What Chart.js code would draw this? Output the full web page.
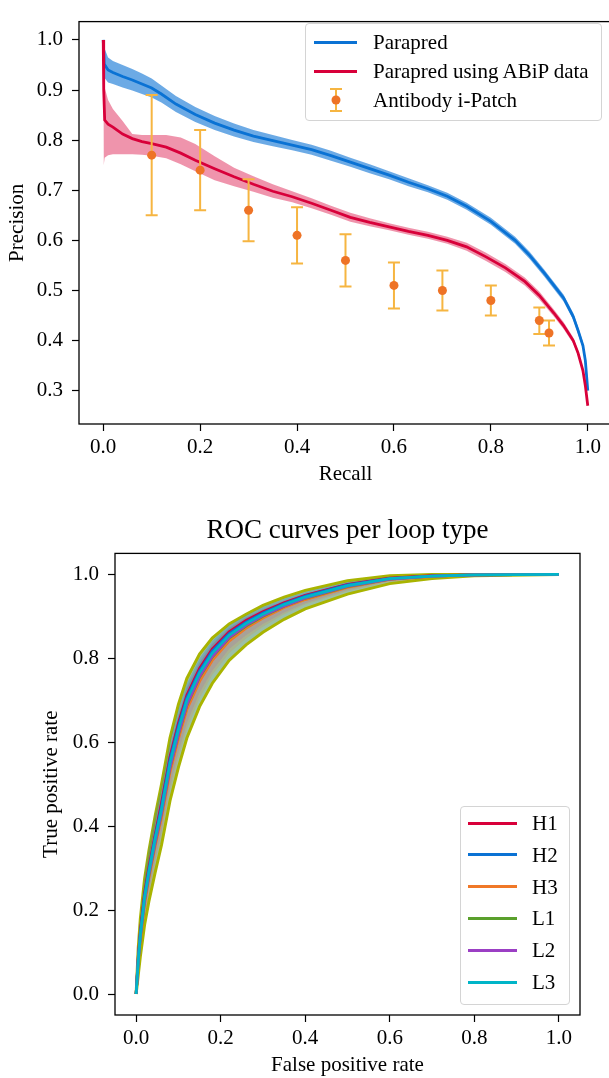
<!DOCTYPE html>
<html>
<head>
<meta charset="utf-8">
<script src="https://cdn.jsdelivr.net/npm/chart.js@4.4.1/dist/chart.umd.min.js"></script>
<style>
	body { margin: 0; width: 609px; height: 1078px; overflow: hidden; background: #fff; position: relative; font-family: "Liberation Serif", "Times New Roman", serif; }
	#pr-wrap { position: absolute; left: 0; top: 0; width: 640px; height: 495px; }
	#roc-wrap { position: absolute; left: 0; top: 500px; width: 609px; height: 578px; }
	.legend { position: absolute; background: rgba(255, 255, 255, 0.8); border: 1px solid #d4d4d4; border-radius: 4px; font-size: 21px; color: #000; }
	.legend .row { position: absolute; left: 0; right: 0; height: 24px; }
	.legend .swatch { position: absolute; top: 10.5px; height: 3px; }
	.legend .label { position: absolute; top: 0; line-height: 24px; white-space: nowrap; }
	.legend svg { position: absolute; }
</style>
</head>
<body>
<div id="pr-wrap"><canvas id="prChart" width="640" height="495"></canvas></div>
<div id="roc-wrap"><canvas id="rocChart" width="609" height="578"></canvas></div>
<div class="legend" id="pr-legend" style="left:305px; top:23px; width:295px; height:96px;"></div>
<div class="legend" id="roc-legend" style="left:460px; top:806px; width:108px; height:197px;"></div>
<script>
	// precision-recall (top)
	const recallTicks = [0, 0.2, 0.4, 0.6, 0.8, 1.0];
	const precisionTicks = [0.3, 0.4, 0.5, 0.6, 0.7, 0.8, 0.9, 1.0];

	const parapredRecall = [0, 0.002, 0.01, 0.02, 0.04, 0.06, 0.08, 0.1, 0.12, 0.15, 0.19, 0.23, 0.27, 0.31, 0.35, 0.39, 0.43, 0.47, 0.51, 0.55, 0.59, 0.63, 0.67, 0.71, 0.75, 0.8, 0.85, 0.88, 0.91, 0.93, 0.95, 0.97, 0.98, 0.99, 0.995, 1.0];
	const parapredPrecision = [1.0, 0.952, 0.94, 0.935, 0.927, 0.92, 0.912, 0.904, 0.892, 0.872, 0.851, 0.834, 0.82, 0.808, 0.799, 0.79, 0.781, 0.769, 0.756, 0.743, 0.73, 0.716, 0.703, 0.688, 0.668, 0.638, 0.6, 0.57, 0.535, 0.51, 0.485, 0.448, 0.42, 0.39, 0.36, 0.30];
	const parapredHigh = [1.0, 0.985, 0.965, 0.958, 0.95, 0.942, 0.933, 0.923, 0.909, 0.888, 0.866, 0.848, 0.833, 0.82, 0.81, 0.8, 0.791, 0.779, 0.765, 0.752, 0.738, 0.724, 0.71, 0.695, 0.675, 0.645, 0.607, 0.577, 0.542, 0.517, 0.492, 0.455, 0.427, 0.397, 0.366, 0.30];
	const parapredLow = [1.0, 0.925, 0.915, 0.912, 0.905, 0.899, 0.892, 0.885, 0.875, 0.856, 0.836, 0.82, 0.807, 0.796, 0.788, 0.78, 0.771, 0.759, 0.747, 0.734, 0.722, 0.708, 0.696, 0.681, 0.661, 0.631, 0.593, 0.563, 0.528, 0.503, 0.478, 0.441, 0.413, 0.383, 0.354, 0.30];

	const abipRecall = [0, 0.001, 0.003, 0.01, 0.02, 0.04, 0.06, 0.08, 0.1, 0.13, 0.16, 0.19, 0.23, 0.27, 0.31, 0.35, 0.39, 0.43, 0.47, 0.51, 0.55, 0.59, 0.63, 0.67, 0.71, 0.75, 0.79, 0.83, 0.87, 0.9, 0.93, 0.95, 0.97, 0.98, 0.99, 0.995, 1.0];
	const abipPrecision = [1.0, 0.9, 0.84, 0.832, 0.826, 0.812, 0.803, 0.797, 0.793, 0.786, 0.774, 0.76, 0.743, 0.727, 0.712, 0.698, 0.687, 0.674, 0.66, 0.646, 0.636, 0.627, 0.618, 0.61, 0.6, 0.587, 0.567, 0.545, 0.518, 0.49, 0.455, 0.43, 0.4, 0.375, 0.34, 0.31, 0.27];
	const abipHigh = [1.0, 0.91, 0.905, 0.88, 0.862, 0.838, 0.812, 0.81, 0.81, 0.81, 0.805, 0.792, 0.768, 0.745, 0.728, 0.712, 0.698, 0.684, 0.669, 0.655, 0.644, 0.634, 0.625, 0.617, 0.607, 0.595, 0.575, 0.553, 0.526, 0.498, 0.462, 0.437, 0.406, 0.381, 0.345, 0.314, 0.27];
	const abipLow = [1.0, 0.75, 0.765, 0.77, 0.772, 0.772, 0.772, 0.771, 0.769, 0.764, 0.752, 0.738, 0.72, 0.708, 0.697, 0.685, 0.676, 0.664, 0.651, 0.637, 0.628, 0.62, 0.611, 0.603, 0.593, 0.579, 0.559, 0.537, 0.51, 0.482, 0.448, 0.423, 0.394, 0.369, 0.335, 0.306, 0.27];

	const ipatchRecall = [0.1, 0.2, 0.3, 0.4, 0.5, 0.6, 0.7, 0.8, 0.9, 0.92];
	const ipatchPrecision = [0.77, 0.74, 0.66, 0.61, 0.56, 0.51, 0.50, 0.48, 0.44, 0.415];
	const ipatchLow = [0.65, 0.66, 0.598, 0.554, 0.508, 0.464, 0.46, 0.45, 0.413, 0.39];
	const ipatchHigh = [0.89, 0.82, 0.722, 0.666, 0.612, 0.556, 0.54, 0.51, 0.466, 0.44];

	// ROC per loop type (bottom)
	const rateTicks = [0, 0.2, 0.4, 0.6, 0.8, 1.0];
	const loopTypes = ['H1', 'H2', 'H3', 'L1', 'L2', 'L3'];
	const fpr = [0, 0.005, 0.01, 0.02, 0.03, 0.045, 0.06, 0.08, 0.1, 0.12, 0.15, 0.18, 0.22, 0.26, 0.3, 0.35, 0.4, 0.5, 0.6, 0.7, 0.8, 1.0];
	const tprH1 = [0, 0.09, 0.15, 0.24, 0.30, 0.38, 0.455, 0.565, 0.645, 0.712, 0.776, 0.822, 0.863, 0.89, 0.911, 0.932, 0.95, 0.976, 0.991, 0.997, 0.999, 1.0];
	const tprH1High = [0, 0.115, 0.18, 0.27, 0.33, 0.41, 0.48, 0.588, 0.665, 0.73, 0.79, 0.834, 0.872, 0.897, 0.917, 0.937, 0.954, 0.979, 0.993, 0.998, 1.0, 1.0];
	const tprH1Low = [0, 0.065, 0.12, 0.21, 0.27, 0.35, 0.428, 0.54, 0.622, 0.692, 0.76, 0.808, 0.852, 0.881, 0.904, 0.926, 0.945, 0.972, 0.988, 0.996, 0.998, 1.0];
	const tprH2 = [0, 0.085, 0.145, 0.235, 0.295, 0.375, 0.447, 0.558, 0.638, 0.706, 0.77, 0.817, 0.859, 0.886, 0.908, 0.93, 0.948, 0.975, 0.99, 0.996, 0.999, 1.0];
	const tprH2High = [0, 0.125, 0.19, 0.285, 0.35, 0.43, 0.5, 0.605, 0.68, 0.74, 0.8, 0.842, 0.878, 0.902, 0.922, 0.942, 0.958, 0.982, 0.995, 0.999, 1.0, 1.0];
	const tprH2Low = [0, 0.055, 0.11, 0.2, 0.26, 0.34, 0.415, 0.528, 0.612, 0.682, 0.75, 0.8, 0.845, 0.873, 0.897, 0.921, 0.94, 0.969, 0.986, 0.994, 0.998, 1.0];
	const tprH3 = [0, 0.075, 0.13, 0.215, 0.275, 0.352, 0.42, 0.528, 0.608, 0.678, 0.745, 0.795, 0.841, 0.872, 0.896, 0.921, 0.94, 0.969, 0.988, 0.995, 0.999, 1.0];
	const tprH3High = [0, 0.095, 0.155, 0.242, 0.302, 0.38, 0.448, 0.555, 0.634, 0.702, 0.767, 0.814, 0.856, 0.885, 0.907, 0.93, 0.948, 0.975, 0.992, 0.997, 1.0, 1.0];
	const tprH3Low = [0, 0.05, 0.1, 0.18, 0.235, 0.31, 0.375, 0.48, 0.56, 0.632, 0.705, 0.76, 0.812, 0.847, 0.875, 0.905, 0.928, 0.96, 0.982, 0.992, 0.998, 1.0];
	const tprL1 = [0, 0.078, 0.135, 0.222, 0.282, 0.36, 0.43, 0.538, 0.618, 0.688, 0.755, 0.803, 0.848, 0.877, 0.9, 0.924, 0.943, 0.971, 0.989, 0.996, 0.999, 1.0];
	const tprL1High = [0, 0.11, 0.18, 0.275, 0.34, 0.425, 0.5, 0.61, 0.69, 0.752, 0.81, 0.848, 0.882, 0.905, 0.926, 0.946, 0.962, 0.985, 0.997, 1.0, 1.0, 1.0];
	const tprL1Low = [0, 0.045, 0.09, 0.165, 0.22, 0.29, 0.355, 0.46, 0.54, 0.61, 0.685, 0.74, 0.795, 0.832, 0.862, 0.893, 0.918, 0.953, 0.978, 0.99, 0.997, 1.0];
	const tprL2 = [0, 0.08, 0.137, 0.225, 0.285, 0.362, 0.432, 0.54, 0.62, 0.69, 0.757, 0.805, 0.85, 0.879, 0.902, 0.925, 0.944, 0.972, 0.989, 0.996, 0.999, 1.0];
	const tprL2High = [0, 0.105, 0.165, 0.255, 0.315, 0.39, 0.46, 0.565, 0.645, 0.712, 0.776, 0.822, 0.864, 0.891, 0.912, 0.934, 0.952, 0.978, 0.993, 0.998, 1.0, 1.0];
	const tprL2Low = [0, 0.05, 0.1, 0.185, 0.243, 0.318, 0.386, 0.494, 0.575, 0.646, 0.718, 0.77, 0.822, 0.855, 0.882, 0.909, 0.931, 0.963, 0.984, 0.993, 0.998, 1.0];
	const tprL3 = [0, 0.08, 0.14, 0.23, 0.29, 0.37, 0.44, 0.55, 0.63, 0.70, 0.765, 0.812, 0.855, 0.883, 0.905, 0.928, 0.946, 0.973, 0.99, 0.996, 0.999, 1.0];
	const tprL3High = [0, 0.1, 0.165, 0.255, 0.315, 0.395, 0.465, 0.572, 0.652, 0.72, 0.783, 0.828, 0.868, 0.894, 0.914, 0.935, 0.952, 0.978, 0.993, 0.998, 1.0, 1.0];
	const tprL3Low = [0, 0.06, 0.115, 0.205, 0.265, 0.345, 0.415, 0.528, 0.608, 0.68, 0.747, 0.796, 0.842, 0.872, 0.896, 0.921, 0.94, 0.968, 0.987, 0.994, 0.998, 1.0];

	const loopSeries = [
		{ mean: tprH1, high: tprH1High, low: tprH1Low, color: '#d8003a', band: 'rgba(216, 0, 58, 0.2)', edge: null },
		{ mean: tprH2, high: tprH2High, low: tprH2Low, color: '#0a72d4', band: 'rgba(10, 114, 212, 0.25)', edge: null },
		{ mean: tprH3, high: tprH3High, low: tprH3Low, color: '#f07828', band: 'rgba(240, 120, 40, 0.18)', edge: null },
		{ mean: tprL1, high: tprL1High, low: tprL1Low, color: '#5aa02c', band: 'rgba(146, 186, 160, 0.92)', edge: '#a9b400' },
		{ mean: tprL2, high: tprL2High, low: tprL2Low, color: '#9b3fc4', band: 'rgba(155, 63, 196, 0.15)', edge: null },
		{ mean: tprL3, high: tprL3High, low: tprL3Low, color: '#00b5c8', band: 'rgba(0, 181, 200, 0.18)', edge: null }
	];

	const serif = 'Liberation Serif, Times New Roman, serif';
	const blue = '#0a72d4';
	const red = '#d8003a';
	const dotOrange = '#ee7326';
	const barYellow = '#f6b541';

	function points(xs, ys) {
		return xs.map((x, i) => ({ x: x, y: ys[i] }));
	}

	function band(xs, ys, fill, color, order, edge) {
		return {
			data: points(xs, ys),
			borderWidth: edge ? 3 : 0,
			borderColor: edge || 'transparent',
			pointRadius: 0,
			fill: fill,
			backgroundColor: color,
			order: order
		};
	}

	function line(xs, ys, color, order) {
		return {
			data: points(xs, ys),
			borderColor: color,
			borderWidth: 2.8,
			pointRadius: 0,
			fill: false,
			order: order
		};
	}

	// full axes frame like matplotlib spines
	const framePlugin = {
		id: 'frame',
		afterDatasetsDraw(chart) {
			const { ctx, chartArea } = chart;
			ctx.save();
			ctx.strokeStyle = '#000';
			ctx.lineWidth = 1.3;
			ctx.strokeRect(chartArea.left, chartArea.top, chartArea.right - chartArea.left, chartArea.bottom - chartArea.top);
			ctx.restore();
		}
	};

	// error bars of Antibody i-Patch, drawn just before its dots
	const errorBarPlugin = {
		id: 'errorBars',
		beforeDatasetDraw(chart, args) {
			if (!chart.data.datasets[args.index].errorBars) {
				return;
			}
			const xScale = chart.scales.x;
			const yScale = chart.scales.y;
			const ctx = chart.ctx;
			ctx.save();
			ctx.strokeStyle = barYellow;
			ctx.lineWidth = 2;
			ipatchRecall.forEach((r, i) => {
				const x = xScale.getPixelForValue(r);
				const yLow = yScale.getPixelForValue(ipatchLow[i]);
				const yHigh = yScale.getPixelForValue(ipatchHigh[i]);
				ctx.beginPath();
				ctx.moveTo(x, yLow);
				ctx.lineTo(x, yHigh);
				ctx.moveTo(x - 6, yLow);
				ctx.lineTo(x + 6, yLow);
				ctx.moveTo(x - 6, yHigh);
				ctx.lineTo(x + 6, yHigh);
				ctx.stroke();
			});
			ctx.restore();
		}
	};

	function axis(min, max, tickValues, fitSize, title, titlePadding, horizontal) {
		return {
			type: 'linear',
			min: min,
			max: max,
			afterBuildTicks: (scale) => {
				scale.ticks = tickValues.map((v) => ({ value: v }));
			},
			afterFit: (scale) => {
				if (horizontal) {
					scale.height = fitSize;
				} else {
					scale.width = fitSize;
				}
			},
			border: { display: false },
			grid: {
				drawOnChartArea: false,
				drawTicks: true,
				tickLength: 7,
				tickWidth: 1.2,
				tickColor: '#000'
			},
			ticks: {
				color: '#000',
				padding: horizontal ? 4 : 9,
				maxRotation: 0,
				font: { family: serif, size: 21 },
				callback: (value) => Number(value).toFixed(1)
			},
			title: {
				display: true,
				text: title,
				color: '#000',
				font: { family: serif, size: 21 },
				padding: titlePadding
			}
		};
	}

	new Chart(document.getElementById('prChart'), {
		type: 'line',
		data: {
			datasets: [
				band(parapredRecall, parapredHigh, false, 'transparent', 3),
				band(parapredRecall, parapredLow, '-1', 'rgba(10, 114, 212, 0.6)', 3),
				band(abipRecall, abipHigh, false, 'transparent', 3),
				band(abipRecall, abipLow, '-1', 'rgba(216, 0, 58, 0.42)', 3),
				line(parapredRecall, parapredPrecision, blue, 2),
				line(abipRecall, abipPrecision, red, 1),
				{
					data: points(ipatchRecall, ipatchPrecision),
					showLine: false,
					pointRadius: 4.5,
					pointBackgroundColor: dotOrange,
					pointBorderWidth: 0,
					errorBars: true,
					order: 0
				}
			]
		},
		options: {
			responsive: false,
			animation: false,
			layout: { padding: { top: 15, right: 28, left: 0, bottom: 0 } },
			plugins: {
				legend: { display: false },
				tooltip: { enabled: false }
			},
			scales: {
				x: axis(-0.05, 1.05, recallTicks, 71, 'Recall', { top: 0, bottom: 8 }, true),
				y: axis(0.2335, 1.0365, precisionTicks, 79, 'Precision', { top: 5, bottom: 0 }, false)
			}
		},
		plugins: [framePlugin, errorBarPlugin]
	});

	const rocDatasets = [];
	loopSeries.forEach((s, k) => {
		const bandOrder = s.edge ? 30 : 20 - k;
		rocDatasets.push(band(fpr, s.high, false, 'transparent', bandOrder, s.edge));
		rocDatasets.push(band(fpr, s.low, '-1', s.band, bandOrder, s.edge));
	});
	loopSeries.forEach((s, k) => {
		rocDatasets.push(line(fpr, s.mean, s.color, 10 - k));
	});

	new Chart(document.getElementById('rocChart'), {
		type: 'line',
		data: { datasets: rocDatasets },
		options: {
			responsive: false,
			animation: false,
			layout: { padding: { top: 0, right: 29, left: 0, bottom: 0 } },
			plugins: {
				legend: { display: false },
				tooltip: { enabled: false },
				title: {
					display: true,
					fullSize: false,
					text: 'ROC curves per loop type',
					color: '#000',
					font: { family: serif, size: 27, weight: 'normal' },
					padding: { top: 15, bottom: 6 }
				}
			},
			scales: {
				x: axis(-0.05, 1.05, rateTicks, 63, 'False positive rate', { top: 0, bottom: 0 }, true),
				y: axis(-0.05, 1.05, rateTicks, 115, 'True positive rate', { top: 39, bottom: 0 }, false)
			}
		},
		plugins: [framePlugin]
	});

	// legends as html, matplotlib style
	function addRow(legend, top, swatchLeft, swatchWidth, textLeft, text, color) {
		const row = document.createElement('div');
		row.className = 'row';
		row.style.top = top + 'px';
		if (color) {
			const sw = document.createElement('div');
			sw.className = 'swatch';
			sw.style.left = swatchLeft + 'px';
			sw.style.width = swatchWidth + 'px';
			sw.style.background = color;
			row.appendChild(sw);
		} else {
			row.innerHTML = '<svg style="left:' + (swatchLeft + 12) + 'px; top:-1px;" width="20" height="26">' +
				'<line x1="10" y1="2" x2="10" y2="24" stroke="' + barYellow + '" stroke-width="2"/>' +
				'<line x1="4" y1="2" x2="16" y2="2" stroke="' + barYellow + '" stroke-width="2"/>' +
				'<line x1="4" y1="24" x2="16" y2="24" stroke="' + barYellow + '" stroke-width="2"/>' +
				'<circle cx="10" cy="13" r="4.5" fill="' + dotOrange + '"/></svg>';
		}
		const label = document.createElement('div');
		label.className = 'label';
		label.style.left = textLeft + 'px';
		label.textContent = text;
		row.appendChild(label);
		legend.appendChild(row);
	}

	const prLegend = document.getElementById('pr-legend');
	addRow(prLegend, 6, 8, 43, 67, 'Parapred', blue);
	addRow(prLegend, 35, 8, 43, 67, 'Parapred using ABiP data', red);
	addRow(prLegend, 64, 8, 43, 67, 'Antibody i-Patch', null);

	const rocLegend = document.getElementById('roc-legend');
	loopTypes.forEach((name, k) => {
		addRow(rocLegend, 4 + k * 31.8, 7, 49, 71, name, loopSeries[k].color);
	});
</script>
</body>
</html>
